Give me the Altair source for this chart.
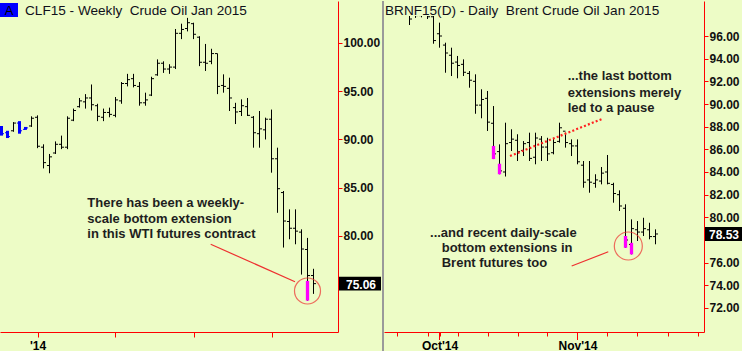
import json
import altair as alt
import pandas as pd

# ---------------- data: CLF15 weekly (WTI) ----------------
w_open = [91.2, 90.7, 90.9, 91.7, 91.05, 91.4, 92.3, 89.2, 87.3, 88.6, 89.5, 89.2, 92.0, 93.4, 93.9, 94.3,
          93.5, 92.3, 92.8, 92.5, 94.0, 95.8, 96.3, 95.5, 93.8, 94.6, 96.7, 97.9, 97.3, 97.5, 101.0, 101.5,
          102.0, 100.6, 98.0, 98.1, 98.9, 95.6, 95.3, 93.3, 92.9, 93.4, 92.3, 90.6, 91.0, 92.1, 88.0, 84.5,
          81.5, 80.8, 80.4, 78.6, 75.9]
w_high = [91.4, 90.9, 91.8, 91.9, 91.3, 92.4, 92.5, 89.5, 88.5, 89.8, 90.4, 92.4, 93.2, 94.3, 94.7, 95.7,
          93.7, 93.2, 93.3, 94.4, 95.95, 96.8, 96.8, 95.95, 94.85, 96.5, 98.3, 98.1, 97.8, 101.45, 102.0, 102.6,
          102.1, 100.7, 99.9, 99.4, 98.9, 96.75, 96.4, 93.8, 94.16, 94.3, 92.43, 92.95, 92.26, 93.1, 89.15, 84.66,
          82.76, 82.76, 80.69, 79.8, 76.6]
w_low = [90.4, 90.15, 90.8, 90.6, 91.0, 91.3, 89.1, 87.0, 86.5, 88.5, 89.0, 89.0, 91.9, 93.3, 93.2, 93.0,
         91.9, 91.9, 92.3, 92.3, 93.7, 95.5, 95.4, 93.5, 93.5, 94.5, 96.6, 96.9, 96.8, 97.3, 100.4, 101.2,
         100.4, 97.6, 97.1, 97.8, 94.7, 94.85, 92.95, 91.6, 92.43, 92.43, 89.15, 89.15, 90.0, 86.56, 82.4, 78.8,
         79.66, 79.14, 76.0, 73.3, 74.0]
w_close = [90.6, 90.3, 91.7, 90.9, 91.2, 92.2, 89.3, 87.6, 88.2, 89.5, 89.2, 92.2, 93.0, 94.0, 94.3, 93.6,
           92.4, 92.8, 92.6, 94.1, 95.8, 96.2, 95.6, 93.8, 94.1, 96.3, 97.9, 97.3, 97.5, 101.0, 101.4, 102.1,
           100.9, 98.0, 97.9, 98.9, 95.5, 95.5, 94.3, 92.85, 93.5, 92.5, 90.7, 91.1, 92.1, 88.0, 84.9, 81.55,
           80.8, 80.5, 78.65, 75.9, 75.06]
w_kind = ["prior", "prior", "main", "prior", "prior"] + ["main"] * 48
w_ext = [None] * 51 + [75.35, None]
w_ticks = [6, 19, 32, 45]
w_tick_labels = ["'14", "", "", ""]
w_price_ticks = [80, 85, 90, 95, 100]
w_last = 75.06
w_title = "CLF15 - Weekly \u00a0Crude Oil Jan 2015"
w_note = ["There has been a weekly-", "scale bottom extension", "in this WTI futures contract"]
w_note_k = [14.3, 14.3, 14.3]
w_note_p = [83.42, 81.76, 80.20]

# ---------------- data: BRNF15 daily (Brent) ----------------
d_index = list(range(-7, 37))
d_open = [98.5, 98.4, 98.2, 97.9, 97.8, 97.9, 97.7, 96.2, 95.2, 94.3, 93.7, 93.5, 92.7, 92.0, 89.9, 90.5,
          88.3, 85.8, 84.0, 86.6, 86.8, 85.9, 86.6, 85.3, 86.9, 86.2, 85.7, 86.7, 87.6, 86.5, 86.3, 84.6,
          83.3, 83.0, 83.2, 84.0, 82.9, 82.0, 80.8, 77.6, 78.9, 78.7, 78.9, 78.3]
d_high = [98.8, 98.7, 98.6, 98.5, 98.4, 98.5, 98.3, 97.18, 95.41, 94.97, 94.24, 93.94, 92.91, 92.62, 91.3, 91.15,
          89.82, 86.44, 88.35, 87.77, 87.33, 86.73, 87.47, 87.47, 87.17, 87.02, 87.02, 88.35, 87.47, 86.88, 86.88, 84.97,
          84.97, 83.8, 84.44, 85.5, 83.05, 82.38, 81.15, 79.82, 79.67, 79.96, 79.52, 78.94]
d_low = [97.8, 97.95, 96.97, 97.6, 97.65, 97.5, 95.32, 94.97, 92.76, 92.47, 92.27, 92.47, 91.44, 89.14, 88.74, 87.62,
         85.14, 83.8, 83.6, 85.85, 84.97, 85.41, 84.97, 84.68, 84.97, 84.97, 85.56, 86.59, 86.15, 85.41, 84.68, 82.61,
         82.17, 82.61, 82.91, 82.91, 81.29, 80.56, 77.31, 76.73, 77.91, 78.35, 78.06, 77.62]
d_close = [98.0, 98.2, 97.5, 97.8, 97.9, 97.7, 95.6, 96.0, 94.5, 93.6, 93.4, 92.8, 92.1, 89.9, 90.4, 88.4,
           85.6, 84.1, 86.5, 86.9, 85.8, 86.5, 85.2, 87.0, 86.2, 85.6, 86.6, 87.9, 86.6, 86.3, 84.9, 83.1,
           83.1, 83.3, 83.9, 83.0, 82.1, 81.0, 78.0, 79.0, 78.7, 79.0, 78.3, 78.53]
d_ext = [None] * 16 + [86.3, 84.73] + [None] * 20 + [78.35, 77.75] + [None] * 4
d_ticks = [-7, -2, 0, 3, 8, 13, 18, 23, 28, 33, 38, 43]
d_major = [0, 23]
d_major_labels = ["Oct'14", "Nov'14"]
d_price_ticks = [72, 74, 76, 80, 82, 84, 86, 88, 90, 92, 94, 96]
d_last = 78.53
d_title = "BRNF15(D) - Daily \u00a0Brent Crude Oil Jan 2015"
d_note1 = ["...the last bottom", "extensions merely", "led to a pause"]
d_note1_i = [21.37, 21.37, 21.37]
d_note1_p = [92.47, 91.01, 89.65]
d_note2 = ["...and recent daily-scale", "bottom extensions in", "Brent futures too"]
d_note2_i = [-1.58, 0.37, 0.37]
d_note2_p = [78.61, 77.29, 75.97]
d_trend = {"i0": [11.75], "i1": [27.08], "p0": [85.41], "p1": [88.68]}

# ---------------- style ----------------
FONT = "Liberation Sans"
BG = "#EDFCC6"
RED = "#FF0000"
ANN = "#EE3030"
TXT = "#1E1E1E"
W1, W2, H = 338, 320, 331


def ternary(vals, labels):
    expr = "''"
    for v, lab in reversed(list(zip(vals, labels))):
        expr = f"datum.value == {v} ? {json.dumps(lab)} : ({expr})"
    return expr


def x_axis(values, expr, tsize):
    return alt.Axis(values=values, labelExpr=expr, title=None, grid=False, domainColor=RED,
                    tickColor=RED, tickSize=tsize, labelPadding=8 - tsize, labelFont=FONT,
                    labelFontWeight="bold", labelFontSize=12, labelColor="#000000",
                    labelFlush=False, labelOverlap=False)


def y_axis(values):
    return alt.Axis(orient="right", values=values, format=".2f", title=None, grid=False,
                    domainColor=RED, tickColor=RED, tickSize=4, labelPadding=1, labelFont=FONT,
                    labelFontWeight="bold", labelFontSize=12, labelColor="#111111")


def panel(df, xs, ys, xax, yax, width, xf):
    X = lambda f: alt.X(f"{f}:Q", scale=xs, axis=xax)
    Y = lambda f: alt.Y(f"{f}:Q", scale=ys, axis=yax)
    col = alt.Color("kind:N", scale=alt.Scale(domain=["prior", "main"], range=["#0000FF", "#000000"]),
                    legend=None)
    base = alt.Chart(df)
    bars = base.mark_rule(clip=True).encode(
        x=X(xf), y=Y("low"), y2="high:Q", color=col,
        strokeWidth=alt.condition(alt.datum.kind == "prior", alt.value(3), alt.value(1)))
    opn = base.transform_calculate(xo=f"datum.{xf} - 0.42").mark_rule(clip=True, strokeWidth=1).encode(
        x=X("xo"), x2=f"{xf}:Q", y=Y("open"), color=col)
    cls = base.transform_calculate(xc=f"datum.{xf} + 0.42").mark_rule(clip=True, strokeWidth=1).encode(
        x=X(xf), x2="xc:Q", y=Y("close"), color=col)
    ext = base.transform_filter("isValid(datum.ext)").mark_rule(
        clip=True, strokeWidth=3.3, color="#FF00FF").encode(x=X(xf), y=Y("low"), y2="ext:Q")
    return X, Y, [bars, opn, cls, ext]


# ---------------- left panel ----------------
wdf = pd.DataFrame({"k": list(range(len(w_high))), "open": w_open, "high": w_high, "low": w_low,
                    "close": w_close, "kind": w_kind, "ext": w_ext})
xs1 = alt.Scale(domain=[-0.25, (W1 - 1.5) / 6], nice=False, zero=False)
ys1 = alt.Scale(domain=[70.05, 104.35], nice=False, zero=False)
X1, Y1, L1 = panel(wdf, xs1, ys1, x_axis(w_ticks, ternary(w_ticks, w_tick_labels), 5),
                   y_axis(w_price_ticks), W1, "k")

note1 = alt.Chart(pd.DataFrame({"k": w_note_k, "p": w_note_p, "t": w_note})).mark_text(
    align="left", baseline="middle", font=FONT, fontSize=13, fontWeight="bold", color=TXT).encode(
    x=X1("k"), y=Y1("p"), text="t:N")
line1 = alt.Chart(pd.DataFrame({"k0": [34.87], "k1": [48.92], "p0": [79.14], "p1": [75.26]})).mark_rule(
    color=ANN, strokeWidth=1.2).encode(x=X1("k0"), x2="k1:Q", y=Y1("p0"), y2="p1:Q")
circ1 = alt.Chart(pd.DataFrame({"k": [51.0], "p": [74.30]})).mark_point(
    shape="circle", size=676, filled=False, color=ANN, strokeWidth=1.2).encode(x=X1("k"), y=Y1("p"))
lastdf1 = pd.DataFrame({"p": [w_last], "t": [f"{w_last:.2f}"]})
box1 = alt.Chart(lastdf1).transform_calculate(lo="datum.p - 0.72", hi="datum.p + 0.72").mark_rect(
    color="#000000").encode(x=alt.value(W1 + 1), x2=alt.value(W1 + 43), y=Y1("lo"), y2="hi:Q")
boxt1 = alt.Chart(lastdf1).mark_text(align="center", baseline="middle", font=FONT, fontSize=12,
                                     fontWeight="bold", color="#FFFFFF", dy=1).encode(
    x=alt.value(W1 + 23), y=Y1("p"), text="t:N")
tag = alt.Chart(pd.DataFrame({"t": ["A"]})).mark_rect(color="#0000FF").encode(
    x=alt.value(0), x2=alt.value(18), y=alt.value(2), y2=alt.value(16))
tagt = alt.Chart(pd.DataFrame({"t": ["A"]})).mark_text(
    align="center", baseline="alphabetic", font=FONT, fontSize=13, color="#000000").encode(
    x=alt.value(9), y=alt.value(14), text="t:N")
title1 = alt.Chart(pd.DataFrame({"t": [w_title]})).mark_text(
    align="left", baseline="alphabetic", font=FONT, fontSize=13.6, color="#10101A").encode(
    x=alt.value(25), y=alt.value(13.5), text="t:N")

left = alt.layer(*L1, note1, line1, circ1, box1, boxt1, tag, tagt, title1).properties(width=W1, height=H)

# ---------------- right panel ----------------
ddf = pd.DataFrame({"i": d_index, "open": d_open, "high": d_high, "low": d_low, "close": d_close,
                    "kind": ["main"] * len(d_index), "ext": d_ext})
xs2 = alt.Scale(domain=[-55.5 / 6, (W2 - 55.5) / 6], nice=False, zero=False)
ys2 = alt.Scale(domain=[69.88, 99.09], nice=False, zero=False)
X2, Y2, L2 = panel(ddf, xs2, ys2, x_axis(d_ticks, ternary(d_major, d_major_labels), 4),
                   y_axis(d_price_ticks), W2, "i")

major = alt.Chart(pd.DataFrame({"i": d_major})).mark_rule(color=RED, strokeWidth=1).encode(
    x=X2("i"), y=alt.value(H), y2=alt.value(H + 8))
trend = alt.Chart(pd.DataFrame(d_trend)).mark_rule(color="#FF2020", strokeWidth=2.2,
                                                     strokeDash=[2, 2.2]).encode(
    x=X2("i0"), x2="i1:Q", y=Y2("p0"), y2="p1:Q")
n1 = alt.Chart(pd.DataFrame({"i": d_note1_i, "p": d_note1_p, "t": d_note1})).mark_text(
    align="left", baseline="middle", font=FONT, fontSize=13, fontWeight="bold", color=TXT).encode(
    x=X2("i"), y=Y2("p"), text="t:N")
n2 = alt.Chart(pd.DataFrame({"i": d_note2_i, "p": d_note2_p, "t": d_note2})).mark_text(
    align="left", baseline="middle", font=FONT, fontSize=13, fontWeight="bold", color=TXT).encode(
    x=X2("i"), y=Y2("p"), text="t:N")
line2 = alt.Chart(pd.DataFrame({"i0": [22.03], "i1": [28.13], "p0": [75.70], "p1": [76.96]})).mark_rule(
    color=ANN, strokeWidth=1.2).encode(x=X2("i0"), x2="i1:Q", y=Y2("p0"), y2="p1:Q")
circ2 = alt.Chart(pd.DataFrame({"i": [31.47], "p": [77.47]})).mark_point(
    shape="circle", size=784, filled=False, color=ANN, strokeWidth=1.2).encode(x=X2("i"), y=Y2("p"))
lastdf2 = pd.DataFrame({"p": [d_last], "t": [f"{d_last:.2f}"]})
box2 = alt.Chart(lastdf2).transform_calculate(lo="datum.p - 0.62", hi="datum.p + 0.62").mark_rect(
    color="#000000").encode(x=alt.value(W2 + 1), x2=alt.value(W2 + 38), y=Y2("lo"), y2="hi:Q")
boxt2 = alt.Chart(lastdf2).mark_text(align="left", baseline="middle", font=FONT, fontSize=12,
                                     fontWeight="bold", color="#FFFFFF", dy=1).encode(
    x=alt.value(W2 + 5), y=Y2("p"), text="t:N")
sep = alt.Chart(pd.DataFrame({"t": [""]})).mark_rule(color="#9A9A9A", strokeWidth=2).encode(
    x=alt.value(-1), y=alt.value(0), y2=alt.value(H + 20))
title2bg = alt.Chart(pd.DataFrame({"t": [d_title]})).mark_rect(color=BG).encode(
    x=alt.value(0), x2=alt.value(276), y=alt.value(0), y2=alt.value(15))
title2 = alt.Chart(pd.DataFrame({"t": [d_title]})).mark_text(
    align="left", baseline="alphabetic", font=FONT, fontSize=13.6, color="#10101A").encode(
    x=alt.value(1), y=alt.value(13.5), text="t:N")

right = alt.layer(*L2, major, trend, n1, n2, line2, circ2, box2, boxt2, title2bg, sep, title2).properties(
    width=W2, height=H)

chart = alt.hconcat(left, right, spacing=46, bounds="flush").properties(padding=0).configure(
    background=BG).configure_view(stroke=None)

chart.save("out.html", embed_options={"renderer": "svg", "actions": False})
